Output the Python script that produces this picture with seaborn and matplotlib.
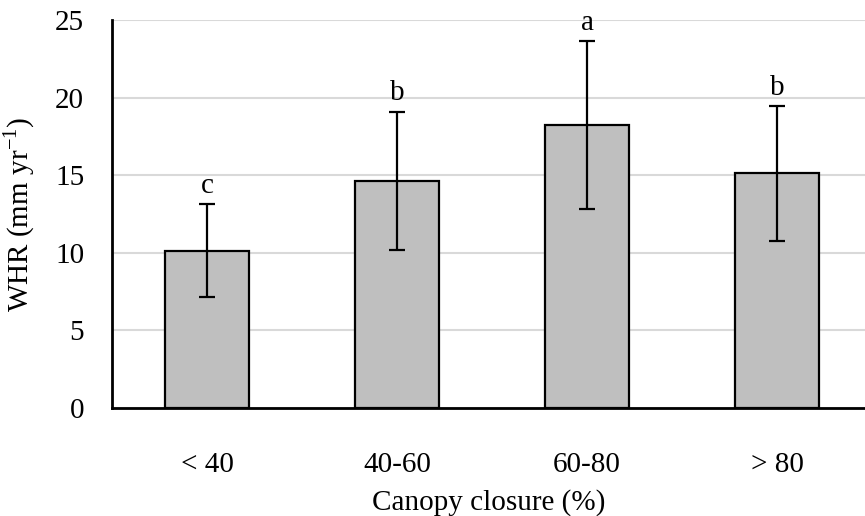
import matplotlib
matplotlib.use("Agg")
import matplotlib.pyplot as plt
import pandas as pd
import seaborn as sns

# Daten
categories = ["< 40", "40-60", "60-80", "> 80"]
whr_mean = [10.13, 14.63, 18.23, 15.12]
whr_err = [3.0, 4.45, 5.4, 4.33]
letters = ["c", "b", "a", "b"]

df = pd.DataFrame({"closure": categories, "whr": whr_mean})

sns.set_style("white")
plt.rcParams["font.family"] = ["Liberation Serif", "DejaVu Serif"]
plt.rcParams["mathtext.fontset"] = "custom"
plt.rcParams["mathtext.rm"] = "Liberation Serif"
plt.rcParams["axes.unicode_minus"] = False
for k in ["text.color", "axes.labelcolor", "xtick.color", "ytick.color"]:
    plt.rcParams[k] = "black"

fig = plt.figure(figsize=(8.65, 5.16), dpi=100)
ax = fig.add_axes([112 / 865, 108 / 516, (865 - 112) / 865, 388 / 516])

sns.barplot(data=df, x="closure", y="whr", color="#bfbfbf", edgecolor="black",
            linewidth=1.6, width=0.44, saturation=1, errorbar=None, ax=ax, zorder=2)

# Fehlerbalken
ax.errorbar(range(len(categories)), whr_mean, yerr=whr_err, fmt="none",
            ecolor="black", elinewidth=1.6, capsize=6, capthick=1.6, zorder=3)

# Buchstaben über den Balken
for i, (m, e, t) in enumerate(zip(whr_mean, whr_err, letters)):
    ax.text(i, m + e + 0.35, t, ha="center", va="bottom", fontsize=21, color="black")

ax.set_ylim(0, 25)
ax.set_xlim(-0.5, 3.5 - 7 / 190)
ax.set_yticks(range(0, 26, 5))
ax.yaxis.grid(True, color="#d9d9d9", linewidth=1.5, zorder=0)
ax.set_axisbelow(True)

for s in ["top", "right"]:
    ax.spines[s].set_visible(False)
for s in ["left", "bottom"]:
    ax.spines[s].set_color("black")
    ax.spines[s].set_linewidth(2)

ax.tick_params(axis="both", length=0, labelsize=21, labelcolor="black")
ax.tick_params(axis="x", pad=32)
ax.tick_params(axis="y", pad=20)

ax.set_xlabel("Canopy closure (%)", fontsize=21, labelpad=8, color="black")
ax.set_ylabel(r"WHR (mm yr$^{\mathregular{-1}}$)", fontsize=21, labelpad=13, color="black")

fig.savefig("out.png", dpi=100)
